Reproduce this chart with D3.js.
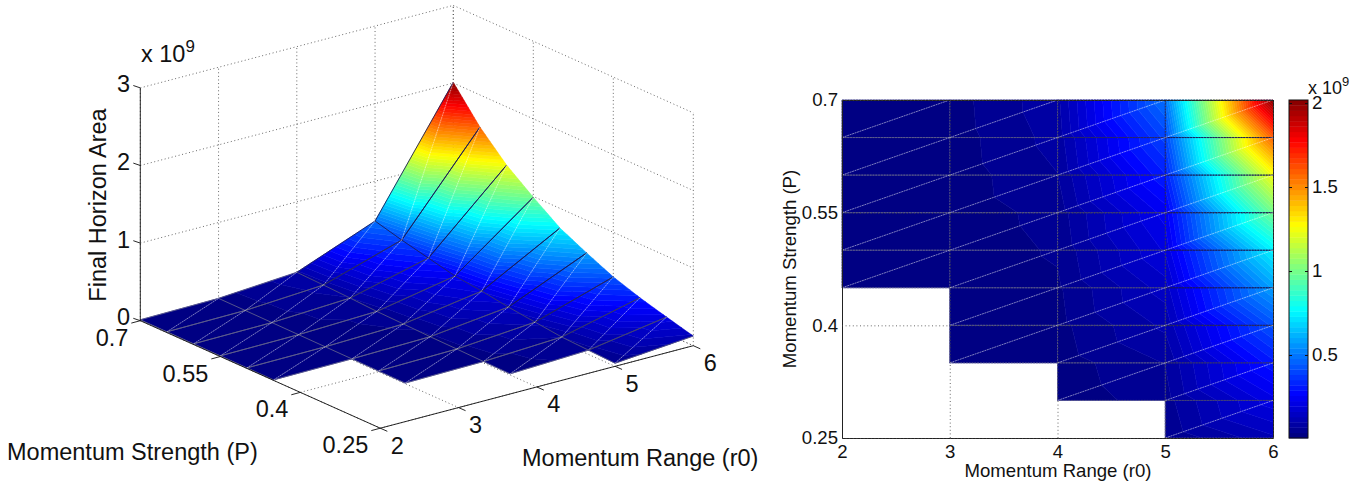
<!DOCTYPE html>
<html>
<head>
<meta charset="utf-8">
<script src="https://cdn.jsdelivr.net/npm/d3@7"></script>
<style>
body { margin: 0; background: #fff; }
text { font-family: "Liberation Sans", Arial, sans-serif; fill: #111; }
</style>
</head>
<body>
<svg id="chart" width="1371" height="485"></svg>
<script>
// values in units of 1e9, null where the run gave no result
var ranges = [2, 3, 4, 5, 6];
var strengths = [0.7, 0.65, 0.6, 0.55, 0.5, 0.45, 0.4, 0.35, 0.3, 0.25];
var areaR2 = [0.012, 0.011, 0.010, 0.009, 0.008, 0.007, null, null, null, null];
var areaR3 = [0.022, 0.020, 0.018, 0.016, 0.014, 0.012, 0.010, 0.008, null, null];
var areaR4 = [0.092, 0.082, 0.068, 0.050, 0.042, 0.032, 0.027, 0.020, 0.015, null];
var areaR5 = [0.487, 0.396, 0.318, 0.240, 0.200, 0.148, 0.108, 0.070, 0.055, 0.040];
var areaR6 = [2.010, 1.586, 1.250, 0.990, 0.747, 0.580, 0.425, 0.310, 0.215, 0.125];
var areas = [areaR2, areaR3, areaR4, areaR5, areaR6];

var rangeTicks = [2, 3, 4, 5, 6];
var strengthTicks = [0.25, 0.4, 0.55, 0.7];
var heightTicks = [0, 1, 2, 3];
var colorTicks = [0.5, 1, 1.5, 2];
var colorMin = 0.006, colorMax = 2.018, levels = 64;

var svg = d3.select('#chart');

function clamp01(v){ return Math.max(0, Math.min(1, v)); }
function jet(i){
	var t = (i + 0.25) / levels;
	return d3.rgb(
		255 * clamp01(Math.min(4*t - 1.5, -4*t + 4.5)),
		255 * clamp01(Math.min(4*t - 0.5, -4*t + 3.5)),
		255 * clamp01(Math.min(4*t + 0.5, -4*t + 2.5))).formatHex();
}

// triangles of the mesh, diagonal from (r_i, P_k+1) to (r_i+1, P_k)
function meshTriangles(){
	var out = [];
	for (var i = 0; i < ranges.length - 1; i++){
		for (var k = 0; k < strengths.length - 1; k++){
			if (areas[i][k+1] === null || areas[i+1][k+1] === null) continue;
			var a = {r: ranges[i], p: strengths[k], z: areas[i][k]};
			var b = {r: ranges[i+1], p: strengths[k], z: areas[i+1][k]};
			var c = {r: ranges[i], p: strengths[k+1], z: areas[i][k+1]};
			var d = {r: ranges[i+1], p: strengths[k+1], z: areas[i+1][k+1]};
			out.push([a, b, c], [b, d, c]);
		}
	}
	return out;
}

// keep the part of a polygon on one side of a height, z varies linearly
function clipZ(poly, level, keepAbove){
	var out = [];
	poly.forEach(function(p, i){
		var q = poly[(i + 1) % poly.length];
		var pin = keepAbove ? p.z >= level : p.z <= level;
		var qin = keepAbove ? q.z >= level : q.z <= level;
		if (pin) out.push(p);
		if (pin !== qin){
			var t = (level - p.z) / (q.z - p.z);
			out.push({x: p.x + t*(q.x - p.x), y: p.y + t*(q.y - p.y), z: level});
		}
	});
	return out;
}

// one path per colour level, each triangle cut exactly along the level heights
function drawSurface(g, project){
	var level = d3.scaleLinear().domain([0, levels]).range([colorMin, colorMax]);
	var tris = meshTriangles().map(function(t){
		return t.map(function(v){
			var xy = project(v.r, v.p, v.z);
			return {x: xy[0], y: xy[1], z: v.z};
		});
	});
	d3.range(levels).forEach(function(i){
		var d = '';
		tris.forEach(function(t){
			var lo = i === 0 ? -1 : level(i);
			var hi = i === levels - 1 ? 99 : level(i + 1);
			var poly = clipZ(clipZ(t, lo, true), hi, false);
			if (poly.length < 3) return;
			d += 'M' + poly.map(function(p){ return p.x.toFixed(2) + ',' + p.y.toFixed(2); }).join('L') + 'Z';
		});
		if (d) g.append('path').attr('d', d).attr('fill', jet(i)).attr('stroke', jet(i)).attr('stroke-width', 0.5);
	});
}

function drawMeshLines(g, project, seamWidth, seamDash, diagOpacity){
	var line = d3.line();
	// seams read light on the navy part of the surface and dark on the bright part
	var seamColor = d3.scaleLinear().domain([0.02, 0.3]).range(['#5c5c8c', '#1c1c58']).clamp(true);
	var edges = [], diagonals = [];
	function edge(a, b){
		var e = [project(a.r, a.p, a.z), project(b.r, b.p, b.z)];
		e.z = (a.z + b.z) / 2;
		edges.push(e);
	}
	meshTriangles().forEach(function(t){
		if (t[0].p === t[1].p){
			edge(t[0], t[1]);
			edge(t[0], t[2]);
			diagonals.push([project(t[1].r, t[1].p, t[1].z), project(t[2].r, t[2].p, t[2].z)]);
		} else {
			edge(t[1], t[2]);
		}
	});
	g.selectAll('path.seam').data(edges).enter().append('path').attr('class', 'seam')
		.attr('d', line).attr('fill', 'none').attr('stroke', function(e){ return seamColor(e.z); })
		.attr('stroke-width', seamWidth).attr('stroke-dasharray', seamDash);
	g.selectAll('path.diag').data(diagonals).enter().append('path').attr('class', 'diag')
		.attr('d', line).attr('fill', 'none').attr('stroke', '#fff')
		.attr('stroke-width', 0.7).attr('stroke-opacity', diagOpacity).attr('stroke-dasharray', '2 0.6');
}

function addPower(g, x, y, size){
	var t = g.append('text').attr('x', x).attr('y', y).style('font-size', size + 'px').text('x 10');
	t.append('tspan').attr('dy', -size * 0.44).style('font-size', size * 0.72 + 'px').text('9');
}

/* ---------- left: 3D view ---------- */
function draw3d(){
	var g = svg.append('g');
	var u = d3.scaleLinear().domain([2, 6]).range([0, 1]);
	var v = d3.scaleLinear().domain([0.7, 0.25]).range([0, 1]);
	var h = d3.scaleLinear().domain([0, 3]).range([0, 232.8]);
	function proj(r, p, z){
		var a = u(r), b = v(p);
		return [140.3 + 313*a + 240*b, 320.7 + 107.5*b - 82.5*a - h(z)];
	}
	var line = d3.line();
	var grid = [];
	rangeTicks.forEach(function(r){
		grid.push([proj(r, 0.7, 0), proj(r, 0.25, 0)]);
		grid.push([proj(r, 0.7, 0), proj(r, 0.7, 3)]);
	});
	strengthTicks.forEach(function(p){
		grid.push([proj(2, p, 0), proj(6, p, 0)]);
		grid.push([proj(6, p, 0), proj(6, p, 3)]);
	});
	heightTicks.forEach(function(z){
		grid.push([proj(2, 0.7, z), proj(6, 0.7, z)]);
		grid.push([proj(6, 0.7, z), proj(6, 0.25, z)]);
	});
	g.selectAll('path.grid').data(grid).enter().append('path').attr('class', 'grid')
		.attr('d', line).attr('fill', 'none').attr('stroke', '#444')
		.attr('stroke-width', 0.8).attr('stroke-dasharray', '1 2.6');

	drawSurface(g, proj);
	drawMeshLines(g, proj, 0.9, null, 0.7);

	// solid axes
	var axes = [
		[proj(2, 0.7, 0), proj(2, 0.7, 3)],
		[proj(2, 0.7, 0), proj(2, 0.25, 0)],
		[proj(2, 0.25, 0), proj(6, 0.25, 0)]
	];
	heightTicks.forEach(function(z){
		axes.push([proj(2, 0.7, z), [proj(2, 0.7, z)[0] - 7, proj(2, 0.7, z)[1] - 2.4]]);
	});
	strengthTicks.forEach(function(p){
		axes.push([proj(2, p, 0), [proj(2, p, 0)[0] - 9, proj(2, p, 0)[1] + 2.4]]);
	});
	rangeTicks.forEach(function(r){
		axes.push([proj(r, 0.25, 0), [proj(r, 0.25, 0)[0] + 7, proj(r, 0.25, 0)[1] + 3.1]]);
	});
	g.selectAll('path.axis3').data(axes).enter().append('path').attr('class', 'axis3')
		.attr('d', line).attr('fill', 'none').attr('stroke', '#111').attr('stroke-width', 0.9);

	var fs = 23.5;
	g.selectAll('text.zt').data(heightTicks).enter().append('text').attr('class', 'zt')
		.attr('x', 130).attr('y', function(z){ return proj(2, 0.7, z)[1] + 4.5; })
		.attr('text-anchor', 'end').style('font-size', fs + 'px').text(function(z){ return z; });
	g.selectAll('text.pt').data(strengthTicks).enter().append('text').attr('class', 'pt')
		.attr('x', function(p){ return proj(2, p, 0)[0] - 12; })
		.attr('y', function(p){ return proj(2, p, 0)[1] + 25; })
		.attr('text-anchor', 'end').style('font-size', fs + 'px').text(function(p){ return p; });
	g.selectAll('text.rt').data(rangeTicks).enter().append('text').attr('class', 'rt')
		.attr('x', function(r){ return proj(r, 0.25, 0)[0] + 10.5; })
		.attr('y', function(r){ return proj(r, 0.25, 0)[1] + 25.5; })
		.style('font-size', fs + 'px').text(function(r){ return r; });
	addPower(g, 141, 62, fs);
	g.append('text').attr('transform', 'translate(106,205) rotate(-90)').attr('text-anchor', 'middle')
		.style('font-size', fs + 'px').text('Final Horizon Area');
	g.append('text').attr('x', 7).attr('y', 460).style('font-size', fs + 'px').text('Momentum Strength (P)');
	g.append('text').attr('x', 522).attr('y', 466).style('font-size', fs + 'px').text('Momentum Range (r0)');
}

/* ---------- right: view from above ---------- */
function draw2d(){
	var g = svg.append('g');
	var x = d3.scaleLinear().domain([2, 6]).range([842, 1273]);
	var y = d3.scaleLinear().domain([0.25, 0.7]).range([438, 100]);
	function proj(r, p){ return [x(r), y(p)]; }

	drawSurface(g, proj);
	drawMeshLines(g, proj, 0.9, '2 0.8', 0.7);

	var fs = 18.6;
	var gx = g.append('g').attr('transform', 'translate(0,438)')
		.call(d3.axisBottom(x).tickValues(rangeTicks).tickSize(-338).tickPadding(7).tickFormat(d3.format('d')));
	var gy = g.append('g').attr('transform', 'translate(842,0)')
		.call(d3.axisLeft(y).tickValues(strengthTicks).tickSize(-431).tickPadding(4).tickFormat(function(d){ return d; }));
	[gx, gy].forEach(function(a){
		a.selectAll('text').style('font-size', fs + 'px').attr('fill', '#111');
		a.selectAll('.tick line').attr('stroke', '#444').attr('stroke-width', 0.8).attr('stroke-dasharray', '1 2.6');
		a.select('.domain').attr('stroke', '#222').attr('stroke-width', 1);
	});
	g.append('text').attr('x', 1058).attr('y', 477).attr('text-anchor', 'middle')
		.style('font-size', fs + 'px').text('Momentum Range (r0)');
	g.append('text').attr('transform', 'translate(796,269) rotate(-90)').attr('text-anchor', 'middle')
		.style('font-size', fs + 'px').text('Momentum Strength (P)');

	// colorbar
	var cy = d3.scaleLinear().domain([colorMin, colorMax]).range([438, 100]);
	var step = (colorMax - colorMin) / levels;
	g.selectAll('rect.cb').data(d3.range(levels)).enter().append('rect').attr('class', 'cb')
		.attr('x', 1289).attr('width', 19)
		.attr('y', function(i){ return cy(colorMin + (i + 1) * step); })
		.attr('height', function(i){ return cy(colorMin + i * step) - cy(colorMin + (i + 1) * step) + 0.4; })
		.attr('fill', jet);
	g.append('rect').attr('x', 1289).attr('y', 100).attr('width', 19).attr('height', 338)
		.attr('fill', 'none').attr('stroke', '#111').attr('stroke-width', 1);
	var gc = g.append('g').attr('transform', 'translate(1308,0)')
		.call(d3.axisRight(cy).tickValues(colorTicks).tickSize(0).tickPadding(4).tickFormat(function(d){ return d; }));
	gc.select('.domain').remove();
	gc.selectAll('text').style('font-size', fs + 'px');
	gc.selectAll('.tick').append('line').attr('x1', -19).attr('x2', -16).attr('stroke', '#111');
	gc.selectAll('.tick').append('line').attr('x1', -3).attr('x2', 0).attr('stroke', '#111');
	addPower(g, 1308, 94, 18);
}

draw3d();
draw2d();
</script>
</body>
</html>
